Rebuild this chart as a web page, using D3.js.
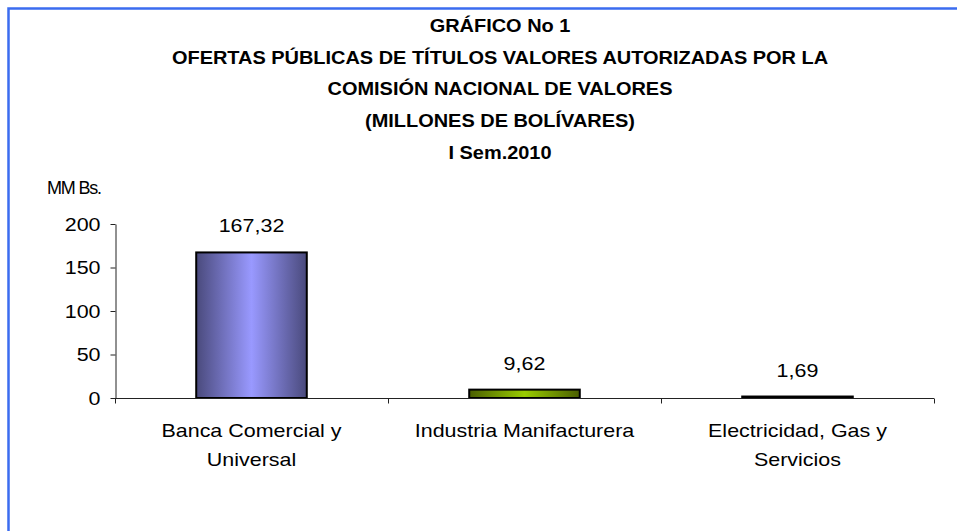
<!DOCTYPE html>
<html>
<head>
<meta charset="utf-8">
<script src="https://cdn.jsdelivr.net/npm/d3@7"></script>
<style>
  body { margin: 0; background: #fff; }
  text { font-family: "Liberation Sans", Arial, sans-serif; fill: #000; }
</style>
</head>
<body>
<div class="container"></div>
<script>
const w = 957;
const h = 531;

const categories = [
  ['Banca Comercial y', 'Universal'],
  ['Industria Manifacturera'],
  ['Electricidad, Gas y', 'Servicios']
];
const values = [167.32, 9.62, 1.69];
const valueLabels = ['167,32', '9,62', '1,69'];
const yTicks = [0, 50, 100, 150, 200];
const titleLines = [
  'GRÁFICO No 1',
  'OFERTAS PÚBLICAS DE TÍTULOS VALORES AUTORIZADAS POR LA',
  'COMISIÓN NACIONAL DE VALORES',
  '(MILLONES DE BOLÍVARES)',
  'I Sem.2010'
];
const barColors = [
  ['#4a4a7c', '#9999ff'],
  ['#4a5e00', '#99cc00'],
  ['#333333', '#555555']
];

const plotLeft = 115;
const plotRight = 934;
const plotTop = 224;
const plotBottom = 398;
const sx = 1.13; // the source fonts render a bit wider than Liberation Sans

const svg = d3
  .select('.container')
  .append('svg')
  .attr('width', w)
  .attr('height', h);

// frame
svg.append('rect')
  .attr('x', 8.5)
  .attr('y', 8.5)
  .attr('width', w + 20)
  .attr('height', h + 20)
  .attr('fill', 'none')
  .attr('stroke', '#3b6cf0')
  .attr('stroke-width', 2.5);

// gradients
const defs = svg.append('defs');
barColors.forEach((c, i) => {
  const g = defs.append('linearGradient')
    .attr('id', 'grad' + i)
    .attr('x1', '0%').attr('x2', '100%')
    .attr('y1', '0%').attr('y2', '0%');
  g.append('stop').attr('offset', '0%').attr('stop-color', c[0]);
  g.append('stop').attr('offset', '50%').attr('stop-color', c[1]);
  g.append('stop').attr('offset', '100%').attr('stop-color', c[0]);
});

// title
svg.append('g')
  .selectAll('text')
  .data(titleLines)
  .enter()
  .append('text')
  .attr('transform', (d, i) => `translate(500,${32 + i * 31.7}) scale(1.05,1)`)
  .attr('text-anchor', 'middle')
  .attr('font-size', 19)
  .attr('font-weight', 'bold')
  .text(d => d);

const x = d3.scaleBand()
  .domain(d3.range(values.length))
  .range([plotLeft, plotRight])
  .paddingInner(0.595)
  .paddingOuter(0.2975);

const y = d3.scaleLinear()
  .domain([0, 200])
  .range([plotBottom, plotTop]);

// y axis
const yAxis = svg.append('g')
  .attr('transform', `translate(${plotLeft + 0.5},0)`)
  .call(d3.axisLeft(y).tickValues(yTicks).tickSize(5).tickPadding(15).tickSizeOuter(0));
yAxis.select('.domain').attr('stroke', '#222');
yAxis.selectAll('.tick line').attr('stroke', '#222');
yAxis.selectAll('.tick text')
  .attr('x', -15 / sx)
  .attr('transform', `scale(${sx},1)`)
  .attr('font-size', 19)
  .attr('font-family', '"Liberation Sans", Arial, sans-serif')
  .attr('fill', '#000');

svg.append('text')
  .attr('x', 47)
  .attr('y', 194)
  .attr('font-size', 18)
  .attr('letter-spacing', -1.2)
  .text('MM Bs.');

// bars
svg.append('g')
  .selectAll('rect')
  .data(values)
  .enter()
  .append('rect')
  .attr('x', (d, i) => x(i))
  .attr('y', d => y(d))
  .attr('width', x.bandwidth())
  .attr('height', d => y(0) - y(d))
  .attr('fill', (d, i) => `url(#grad${i})`)
  .attr('stroke', '#000')
  .attr('stroke-width', 2);

// x axis
const step = x.step();
const xAxis = svg.append('g').attr('transform', `translate(0,${plotBottom + 0.5})`);
xAxis.append('line')
  .attr('x1', plotLeft).attr('x2', plotRight)
  .attr('stroke', '#222');
xAxis.selectAll('line.tk')
  .data(d3.range(values.length + 1))
  .enter()
  .append('line')
  .attr('class', 'tk')
  .attr('x1', i => plotLeft + i * step + 0.5)
  .attr('x2', i => plotLeft + i * step + 0.5)
  .attr('y1', 0).attr('y2', 5)
  .attr('stroke', '#222');

// value labels
svg.append('g')
  .selectAll('text')
  .data(values)
  .enter()
  .append('text')
  .attr('transform', (d, i) => `translate(${x(i) + x.bandwidth() / 2},${y(d) - 20}) scale(${sx},1)`)
  .attr('text-anchor', 'middle')
  .attr('font-size', 19)
  .text((d, i) => valueLabels[i]);

// category labels
const cat = svg.append('g')
  .selectAll('text')
  .data(categories)
  .enter()
  .append('text')
  .attr('transform', (d, i) => `translate(${x(i) + x.bandwidth() / 2},0) scale(${sx},1)`)
  .attr('text-anchor', 'middle')
  .attr('font-size', 19);
cat.selectAll('tspan')
  .data(d => d)
  .enter()
  .append('tspan')
  .attr('x', 0)
  .attr('y', (d, j) => 437 + j * 29.5)
  .text(d => d);
</script>
</body>
</html>
